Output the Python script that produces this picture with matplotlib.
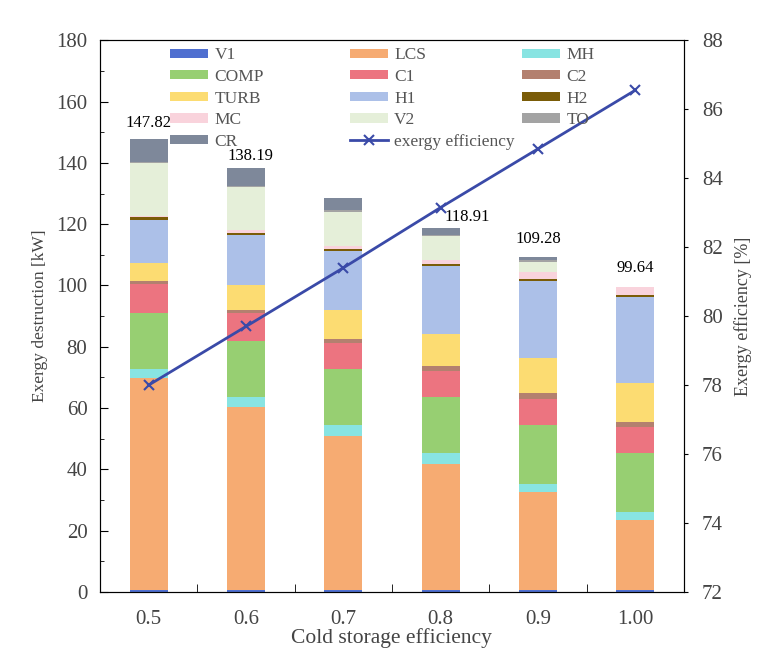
import matplotlib
matplotlib.use("Agg")
import matplotlib.pyplot as plt
import numpy as np
from matplotlib.ticker import MultipleLocator, FixedLocator

plt.rcParams['font.family'] = ['Liberation Serif', 'DejaVu Serif']

categories = ["0.5", "0.6", "0.7", "0.8", "0.9", "1.00"]
V1   = [0.7, 0.7, 0.7, 0.7, 0.7, 0.7]
LCS  = [69.1, 59.5, 50.2, 41.0, 32.0, 22.8]
MH   = [2.9, 3.3, 3.6, 3.7, 2.7, 2.7]
COMP = [18.2, 18.4, 18.2, 18.3, 19.0, 19.2]
C1   = [9.5, 9.1, 8.4, 8.5, 8.7, 8.5]
C2   = [1.0, 1.0, 1.6, 1.5, 1.7, 1.6]
TURB = [5.8, 8.1, 9.2, 10.4, 11.4, 12.8]
H1   = [14.3, 16.3, 19.4, 22.2, 25.2, 28.0]
H2   = [0.8, 0.8, 0.7, 0.7, 0.8, 0.7]
MC   = [0.5, 0.8, 1.0, 1.2, 2.2, 2.64]
V2   = [17.0, 14.0, 11.0, 7.8, 3.3, 0.0]
TO   = [0.5, 0.5, 0.5, 0.5, 0.5, 0.0]
CR   = [7.52, 5.69, 4.1, 2.41, 1.08, 0.0]
totals_text = ["147.82", "138.19", "", "118.91", "109.28", "99.64"]
exergy_eff = [78.0, 79.7, 81.4, 83.15, 84.85, 86.55]

series = [("V1", V1, "#4f6fd0"), ("LCS", LCS, "#f6ab72"), ("MH", MH, "#88e4e2"),
          ("COMP", COMP, "#97cf72"), ("C1", C1, "#ec7480"), ("C2", C2, "#b3806f"),
          ("TURB", TURB, "#fcdc72"), ("H1", H1, "#acc0e8"), ("H2", H2, "#7a5c08"),
          ("MC", MC, "#f9d3dc"), ("V2", V2, "#e5efd9"), ("TO", TO, "#a3a3a3"),
          ("CR", CR, "#7e889a")]

fig = plt.figure(figsize=(7.78, 6.6), dpi=100)
ax = fig.add_axes([0.1285, 0.103, 0.7505, 0.836])
x = np.arange(len(categories))
bottom = np.zeros(len(categories))
handles = {}
for name, vals, col in series:
    b = ax.bar(x, vals, 0.39, bottom=bottom, color=col, label=name, zorder=2)
    handles[name] = b
    bottom += np.array(vals)

label_dx = [0, 0.05, 0, 0.27, 0, 0]
label_dy = [2.5, 1.6, 2.5, 0.8, 3.3, 3.3]
for i, t in enumerate(totals_text):
    if t:
        ax.text(x[i] + label_dx[i], bottom[i] + label_dy[i], t, ha='center', va='bottom', fontsize=12)

ax.set_xlim(-0.5, 5.5)
ax.set_ylim(0, 180)
ax.set_xticks(x)
ax.set_xticklabels(categories, fontsize=15, color='#444444')
ax.tick_params(axis='x', length=0, pad=13)
ax.xaxis.set_minor_locator(FixedLocator(np.arange(0.5, 5.5, 1.0)))
ax.tick_params(axis='x', which='minor', direction='in', length=6)
ax.yaxis.set_major_locator(MultipleLocator(20))
ax.yaxis.set_minor_locator(MultipleLocator(10))
ax.tick_params(axis='y', which='major', direction='in', length=6, labelsize=15, labelcolor='#444444', pad=9)
ax.tick_params(axis='y', which='minor', direction='in', length=3)
ax.set_ylabel("Exergy destruction [kW]", fontsize=12.5, color='#444444', labelpad=6)
ax.set_xlabel("Cold storage efficiency", fontsize=15.5, color='#444444', labelpad=-1)
for s in ax.spines.values():
    s.set_color('#333333')

ax2 = ax.twinx()
ln, = ax2.plot(x, exergy_eff, color='#3a4aa8', lw=2, marker='x', ms=7, mew=1.5, label='exergy efficiency', zorder=5)
ax2.set_ylim(72, 88)
ax2.yaxis.set_major_locator(MultipleLocator(2))
ax2.tick_params(axis='y', direction='out', length=3, labelsize=15, labelcolor='#444444', pad=10)
ax2.set_ylabel("Exergy efficiency [%]", fontsize=13, color='#444444', labelpad=8)

columns = [["V1", "COMP", "TURB", "MC", "CR"],
           ["LCS", "C1", "H1", "V2", "exergy efficiency"],
           ["MH", "C2", "H2", "TO"]]
col_x = [0.12, 0.428, 0.723]
legs = []
for names, cx in zip(columns, col_x):
    hs = [ln if n == "exergy efficiency" else handles[n] for n in names]
    leg = ax2.legend(hs, names, loc='upper left', bbox_to_anchor=(cx, 0.987), frameon=False,
                     fontsize=12.5, handlelength=2.2, handleheight=0.45, labelspacing=0.32,
                     handletextpad=0.35, borderpad=0, borderaxespad=0)
    for t in leg.get_texts():
        t.set_color('#555555')
    legs.append(leg)
for leg in legs[:-1]:
    ax2.add_artist(leg)

fig.savefig("out.png", dpi=100)
